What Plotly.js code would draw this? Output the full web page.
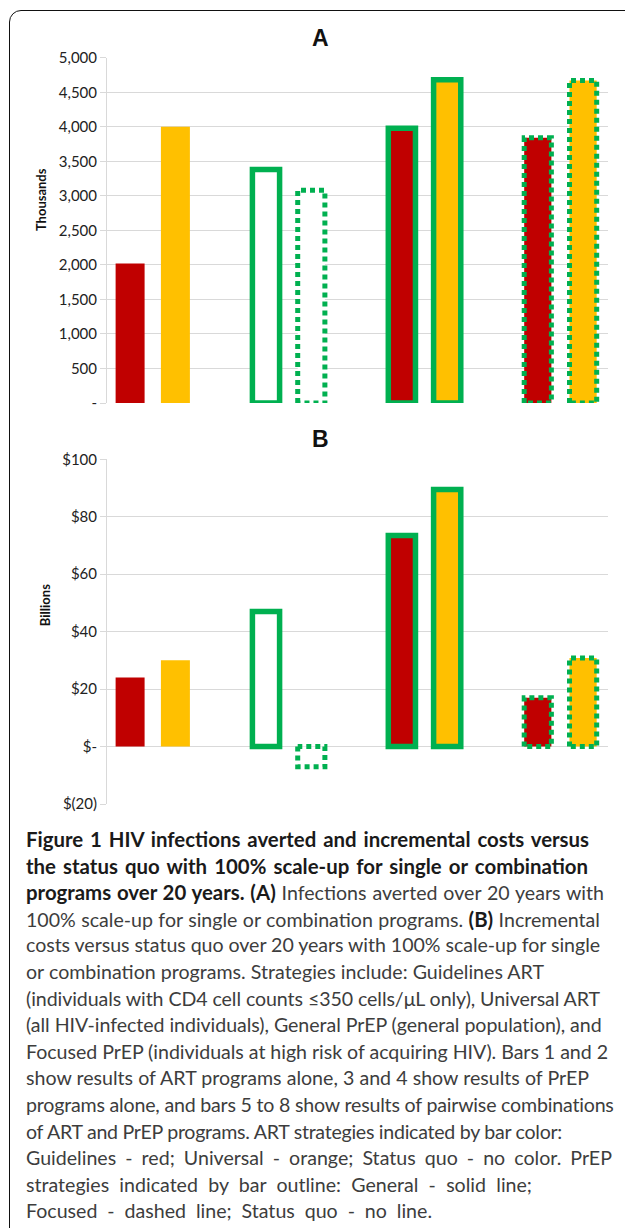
<!DOCTYPE html>
<html><head><meta charset="utf-8">
<script src="https://cdn.plot.ly/plotly-3.0.1.min.js"></script>
<style>
html,body{margin:0;padding:0;background:#fff;width:625px;height:1228px;overflow:hidden;}
#frame{position:absolute;left:9px;top:10px;width:720px;height:1400px;border:1.6px solid #111;border-radius:12px;box-sizing:border-box;}
#chart{position:absolute;left:0;top:0;width:625px;height:820px;}
#caption{position:absolute;left:26px;top:826px;font-family:Lato,"Open Sans",sans-serif;font-size:19.6px;line-height:26.6px;color:#3d3d3d;font-weight:400;}
#caption .ln{white-space:nowrap;height:26.6px;}
#caption .ln span{display:inline-block;}
#caption b{color:#1a1a1a;font-weight:700;font-size:20.4px;}
</style></head><body>
<div id="frame"></div>
<div id="chart"></div>
<div id="caption"></div>
<script>
// ---- data ----
const strategies = ['Guidelines ART','Universal ART','General PrEP','Focused PrEP',
  'Guidelines ART + General PrEP','Universal ART + General PrEP',
  'Guidelines ART + Focused PrEP','Universal ART + Focused PrEP'];
const artProgram  = ['Guidelines','Universal','None','None','Guidelines','Universal','Guidelines','Universal'];
const prepProgram = ['None','None','General','Focused','General','General','Focused','Focused'];
const infectionsAverted = [2020, 4000, 3380, 3080, 3980, 4680, 3840, 4670]; // thousands
const incrementalCosts  = [24, 30, 47, -7, 73.5, 89.5, 17, 30.8];          // billions
const tickValsA = [0,500,1000,1500,2000,2500,3000,3500,4000,4500,5000];
const tickTextA = ['-','500','1,000','1,500','2,000','2,500','3,000','3,500','4,000','4,500','5,000'];
const tickValsB = [-20,0,20,40,60,80,100];
const tickTextB = ['$(20)','$-','$20','$40','$60','$80','$100'];

// ---- styles ----
const RED='#C00000', ORANGE='#FFC000', GREEN='#00B050', GRID='#D9D9D9';
const fillOf = {Guidelines:RED, Universal:ORANGE, None:'#FFFFFF'};
const pos = strategies.map((s,i)=>Math.floor(i/2)*3 + i%2);
const widthOf = p => p==='None' ? 0.64 : 0.6;
const widths = prepProgram.map(widthOf);

function panelTraces(values, xa, ya){
  const bar = {
    type:'bar', x:pos, y:values, width:widths, xaxis:xa, yaxis:ya,
    text:strategies, hoverinfo:'text+y', textposition:'none',
    marker:{color:artProgram.map(a=>fillOf[a]),
            line:{color:GREEN, width:prepProgram.map(p=>p==='General'?5.5:0)}}
  };
  const dx=[], dy=[];
  values.forEach((v,i)=>{
    if(prepProgram[i]!=='Focused') return;
    const x0=pos[i]-widths[i]/2, x1=pos[i]+widths[i]/2;
    dx.push(x0,x0,x1,x1,x0,null); dy.push(0,v,v,0,0,null);
  });
  const dots = {type:'scatter', mode:'lines', x:dx, y:dy, xaxis:xa, yaxis:ya,
    hoverinfo:'skip', line:{color:GREEN, width:5, dash:'5px,4px'}};
  return [bar, dots];
}

const yCommon = {
  tickmode:'array', showgrid:true, gridcolor:GRID, gridwidth:1,
  showline:true, linecolor:GRID, linewidth:1, ticks:'outside', ticklen:6, tickcolor:GRID,
  tickfont:{family:'Lato, sans-serif', size:15, color:'#222'}, zeroline:false, fixedrange:true
};
const xCommon = {range:[-0.51,10.55], visible:false, fixedrange:true};

const layout = {
  width:625, height:820, autosize:false,
  margin:{l:107, r:17, t:0, b:0},
  paper_bgcolor:'rgba(0,0,0,0)', plot_bgcolor:'rgba(0,0,0,0)',
  showlegend:false, barmode:'overlay',
  xaxis:Object.assign({anchor:'y', domain:[0,1]}, xCommon),
  xaxis2:Object.assign({anchor:'y2', domain:[0,1]}, xCommon),
  yaxis:Object.assign({anchor:'x', domain:[0.5085,0.9296], range:[0,5000],
    tickvals:tickValsA, ticktext:tickTextA}, yCommon),
  yaxis2:Object.assign({anchor:'x2', domain:[0.0195,0.4399], range:[-20,100],
    tickvals:tickValsB, ticktext:tickTextB}, yCommon),
  annotations:[
    {text:'<b>A</b>', xref:'paper', yref:'paper', x:0.427, y:0.9537, showarrow:false,
     xanchor:'center', yanchor:'middle', font:{family:'Liberation Sans, Arial', size:23, color:'#111'}},
    {text:'<b>B</b>', xref:'paper', yref:'paper', x:0.427, y:0.4646, showarrow:false,
     xanchor:'center', yanchor:'middle', font:{family:'Liberation Sans, Arial', size:23, color:'#111'}},
    {text:'<b>Thousands</b>', xref:'paper', yref:'paper', x:-0.1317, y:0.756, showarrow:false,
     textangle:-90, xanchor:'center', yanchor:'middle', font:{family:'Lato, sans-serif', size:13, color:'#111'}},
    {text:'<b>Billions</b>', xref:'paper', yref:'paper', x:-0.1238, y:0.262, showarrow:false,
     textangle:-90, xanchor:'center', yanchor:'middle', font:{family:'Lato, sans-serif', size:13, color:'#111'}}
  ]
};

const data = [].concat(panelTraces(infectionsAverted,'x','y'), panelTraces(incrementalCosts,'x2','y2'));
Plotly.newPlot('chart', data, layout, {displayModeBar:false, staticPlot:true});

// ---- caption ----
const captionLines = [
  '<b>Figure 1 HIV infections averted and incremental costs versus</b>',
  '<b>the status quo with 100% scale-up for single or combination</b>',
  '<b>programs over 20 years. (A)</b> Infections averted over 20 years with',
  '100% scale-up for single or combination programs. <b>(B)</b> Incremental',
  'costs versus status quo over 20 years with 100% scale-up for single',
  'or combination programs. Strategies include: Guidelines ART',
  '(individuals with CD4 cell counts ≤350 cells/μL only), Universal ART',
  '(all HIV-infected individuals), General PrEP (general population), and',
  'Focused PrEP (individuals at high risk of acquiring HIV). Bars 1 and 2',
  'show results of ART programs alone, 3 and 4 show results of PrEP',
  'programs alone, and bars 5 to 8 show results of pairwise combinations',
  'of ART and PrEP programs. ART strategies indicated by bar color:',
  'Guidelines - red; Universal - orange; Status quo - no color. PrEP',
  'strategies indicated by bar outline: General - solid line;',
  'Focused - dashed line; Status quo - no line.'
];
const captionRight = [589,588,604,600,600,544,600,602,608,589,614,562,612,532,432];
const cap = document.getElementById('caption');
const spans = captionLines.map(h=>{
  const d=document.createElement('div'); d.className='ln';
  const s=document.createElement('span'); s.innerHTML=h; d.appendChild(s); cap.appendChild(d); return s;
});
function fitCaption(){
  spans.forEach((s,i)=>{
    s.style.wordSpacing='0px'; s.style.letterSpacing='0px';
    const w=s.getBoundingClientRect().width;
    const txt=s.textContent;
    const n=(txt.match(/ /g)||[]).length;
    const target=captionRight[i]-26;
    if(target>=w){ if(n>0) s.style.wordSpacing=((target-w)/n).toFixed(2)+'px'; }
    else s.style.letterSpacing=((target-w)/txt.length).toFixed(3)+'px';
  });
}
fitCaption();
if(document.fonts && document.fonts.ready) document.fonts.ready.then(fitCaption);
</script>
</body></html>
